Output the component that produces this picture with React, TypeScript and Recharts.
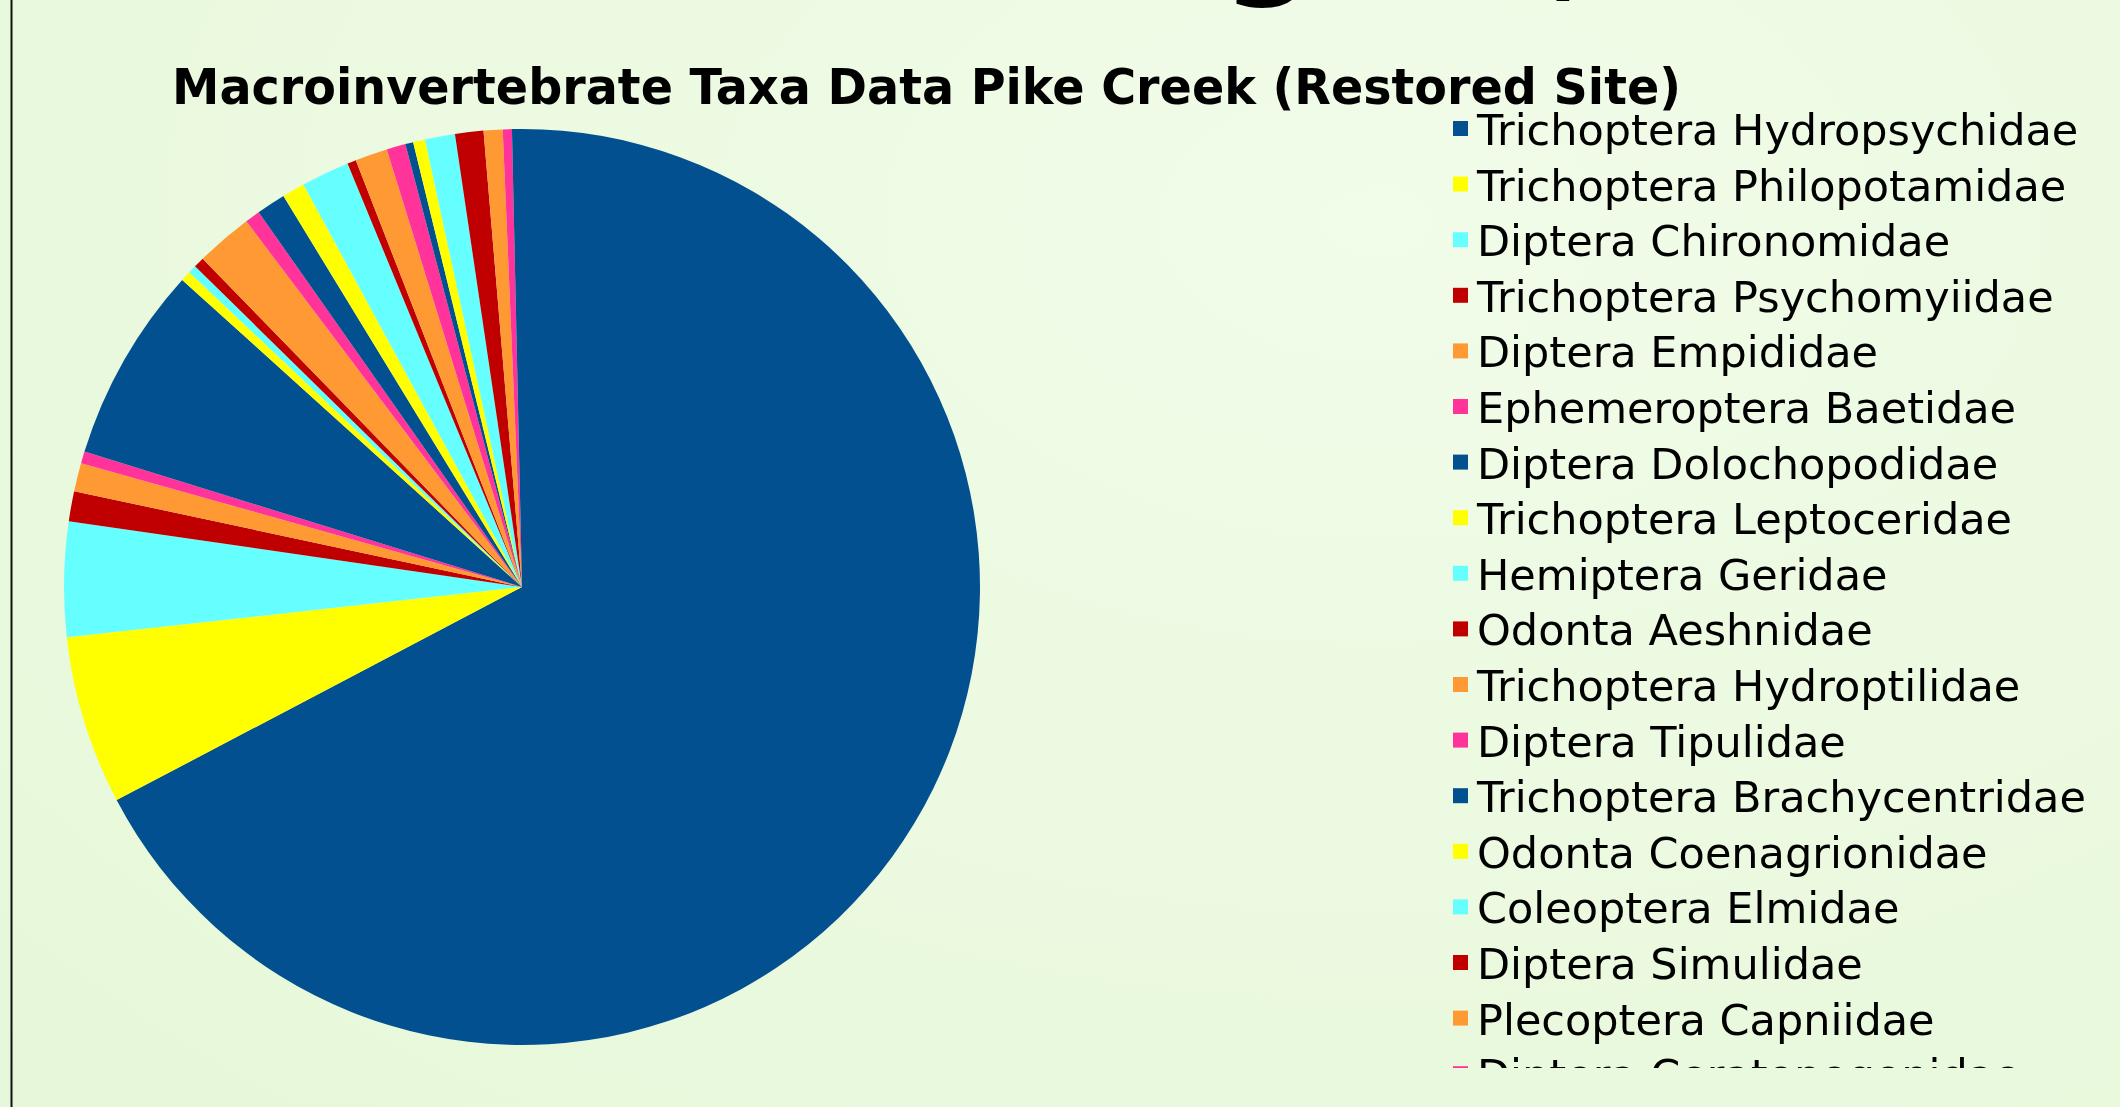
import React from 'react';
import { PieChart, Pie, Cell, Legend, Customized } from 'recharts';

const TITLE = 'Macroinvertebrate Taxa Data Pike Creek (Restored Site)';

const TAXA = [
  'Trichoptera Hydropsychidae',
  'Trichoptera Philopotamidae',
  'Diptera Chironomidae',
  'Trichoptera Psychomyiidae',
  'Diptera Empididae',
  'Ephemeroptera Baetidae',
  'Diptera Dolochopodidae',
  'Trichoptera Leptoceridae',
  'Hemiptera Geridae',
  'Odonta Aeshnidae',
  'Trichoptera Hydroptilidae',
  'Diptera Tipulidae',
  'Trichoptera Brachycentridae',
  'Odonta Coenagrionidae',
  'Coleoptera Elmidae',
  'Diptera Simulidae',
  'Plecoptera Capniidae',
  'Diptera Ceratopogonidae',
  'Megaloptera Corydalidae',
  'Plecoptera Perlidae',
  'Ephemeroptera Heptageniidae',
  'Oligochaeta',
  'Amphipoda Gammaridae',
  'Isopoda Asellidae',
  'Gastropoda Physidae',
];

const SHARES = [
  67.3, 5.95, 4.05, 1.06, 1.0, 0.42, 6.92, 0.36, 0.29, 0.375, 2.0, 0.53, 1.03,
  0.8, 1.7, 0.31, 1.14, 0.67, 0.28, 0.42, 1.06, 1.0, 0.67, 0.32, 0.35,
];

const PALETTE = ['#02508F', '#FFFF00', '#66FFFF', '#C00000', '#FF9933', '#FF3399'];

const data = TAXA.map((name, i) => ({ name, value: SHARES[i] }));

const W = 2120;
const H = 1107;

const LEG_LEFT = 1440;
const LEG_TOP = 100;
const LEG_BOTTOM = 1068;
const ROW_H = 55.6;
const FIRST_BASE = 45;

const renderLegend = () => {
  const h = LEG_BOTTOM - LEG_TOP;
  const items = TAXA.map((name, i) => ({
    name,
    color: PALETTE[i % PALETTE.length],
    base: FIRST_BASE + i * ROW_H,
  })).filter((it) => it.base - 32 < h);
  return (
    <svg width={W - LEG_LEFT} height={h} style={{ display: 'block' }}>
      {items.map((it) => (
        <g key={it.name}>
          <rect x={13} y={it.base - 24} width={15} height={15} fill={it.color} />
          <text
            x={37}
            y={it.base}
            fontFamily="'DejaVu Sans', Verdana, sans-serif"
            fontSize={43}
            fill="#000"
          >
            {it.name}
          </text>
        </g>
      ))}
    </svg>
  );
};

const Decor = () => (
  <g>
    <line x1={11.5} y1={0} x2={11.5} y2={H} stroke="#111" strokeWidth={2} />
    <text
      x={172}
      y={104}
      textLength={1509}
      lengthAdjust="spacingAndGlyphs"
      fontFamily="'DejaVu Sans', Verdana, sans-serif"
      fontWeight="bold"
      fontSize={50}
      fill="#000"
    >
      {TITLE}
    </text>
    <text x={1222} y={-20} fontFamily="'DejaVu Sans', sans-serif" fontWeight="bold" fontSize={130} fill="#000">
      g
    </text>
    <text x={1550} y={-16} fontFamily="'DejaVu Sans', sans-serif" fontWeight="bold" fontSize={120} fill="#000">
      ,
    </text>
  </g>
);

export default function App() {
  return (
    <div
      style={{
        position: 'fixed',
        left: 0,
        top: 0,
        width: W,
        height: H,
        overflow: 'hidden',
        background:
          'radial-gradient(ellipse at 65% 20%, #F1FCE9 0%, #ECFAE1 45%, #E6F8D9 100%)',
      }}
    >
      <PieChart width={W} height={H} margin={{ top: 0, right: 0, bottom: 0, left: 0 }}>
        <Customized component={Decor} />
        <Pie
          data={data}
          dataKey="value"
          nameKey="name"
          cx={522}
          cy={587}
          outerRadius={458}
          innerRadius={0}
          startAngle={90}
          endAngle={-270}
          stroke="none"
          paddingAngle={0}
          isAnimationActive={false}
          labelLine={false}
        >
          {data.map((d, i) => (
            <Cell key={d.name} fill={PALETTE[i % PALETTE.length]} stroke="none" />
          ))}
        </Pie>
        <Legend
          layout="vertical"
          align="right"
          verticalAlign="top"
          content={renderLegend}
          wrapperStyle={{
            position: 'absolute',
            left: LEG_LEFT,
            top: LEG_TOP,
            width: W - LEG_LEFT,
            height: LEG_BOTTOM - LEG_TOP,
            overflow: 'hidden',
          }}
        />
      </PieChart>
    </div>
  );
}
